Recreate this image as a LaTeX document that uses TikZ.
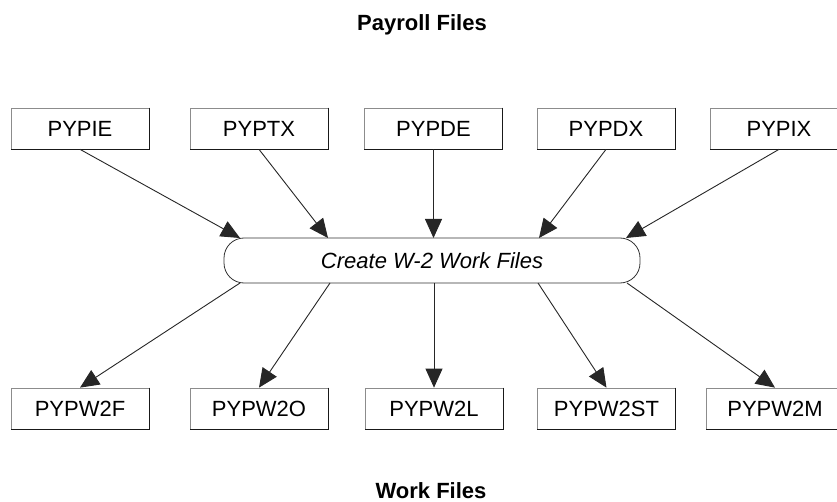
\documentclass[tikz,border=0pt]{standalone}
\usepackage{fontspec}
\setmainfont{Liberation Sans}
\usetikzlibrary{arrows.meta}

\tikzset{
  filebox/.style={draw=black!45, line width=0.7pt, minimum width=138pt,
    minimum height=41pt, inner sep=0pt, font=\fontsize{22}{26}\selectfont},
  edge/.style={draw=black!90, line width=1.1pt},
  procbox/.style={draw=black!80, line width=0.8pt, rounded corners=20pt,
    minimum width=416pt, minimum height=45pt, inner sep=0pt,
    font=\fontsize{22}{26}\selectfont\itshape},
  title/.style={font=\fontsize{22}{26}\selectfont\bfseries},
  flow/.style={draw=black!85, line width=0.9pt,
    -{Triangle[length=19pt,width=17pt]}}
}

\begin{document}
\begin{tikzpicture}[x=1pt,y=-1pt]
  \useasboundingbox (0,0) rectangle (837,502);
  \clip (0,0) rectangle (837,502);

  % headings
  \node[title] (head) at (422,25) {Payroll Files};
  \node[title] (foot) at (431,491) {Work Files};

  % input files
  \node[filebox] (pie) at (80,128.5) {PYPIE};
  \node[filebox] (ptx) at (259,128.5) {PYPTX};
  \node[filebox] (pde) at (433.5,128.5) {PYPDE};
  \node[filebox] (pdx) at (606,128.5) {PYPDX};
  \node[filebox] (pix) at (779,128.5) {PYPIX};

  % output files
  \node[filebox] (w2f) at (80,408.5) {PYPW2F};
  \node[filebox] (w2o) at (259,408.5) {PYPW2O};
  \node[filebox] (w2l) at (434,408.5) {PYPW2L};
  \node[filebox] (w2st) at (606.5,408.5) {PYPW2ST};
  \node[filebox] (w2m) at (775,408.5) {PYPW2M};

  % darker lower and right edges of the file boxes
  \foreach \n in {pie,ptx,pde,pdx,pix,w2f,w2o,w2l,w2st,w2m}
    \draw[edge] (\n.north east) -- (\n.south east) -- (\n.south west);

  % process
  \node[procbox] (proc) at (432,260.5) {Create W-2 Work Files};

  % attachment points on the process box
  \coordinate (i1) at (240,238);
  \coordinate (i2) at (328,238);
  \coordinate (i3) at (433.5,238);
  \coordinate (i4) at (539,238);
  \coordinate (i5) at (626,238);
  \coordinate (o1) at (240,283);
  \coordinate (o2) at (330,283);
  \coordinate (o3) at (434,283);
  \coordinate (o4) at (538,283);
  \coordinate (o5) at (627,283);

  % inputs to the process
  \draw[flow] (pie.south) -- (i1);
  \draw[flow] (ptx.south) -- (i2);
  \draw[flow] (pde.south) -- (i3);
  \draw[flow] (pdx.south) -- (i4);
  \draw[flow] (pix.south) -- (i5);

  % process to outputs
  \draw[flow] (o1) -- (w2f.north);
  \draw[flow] (o2) -- (w2o.north);
  \draw[flow] (o3) -- (w2l.north);
  \draw[flow] (o4) -- (w2st.north);
  \draw[flow] (o5) -- (w2m.north);
\end{tikzpicture}
\end{document}
